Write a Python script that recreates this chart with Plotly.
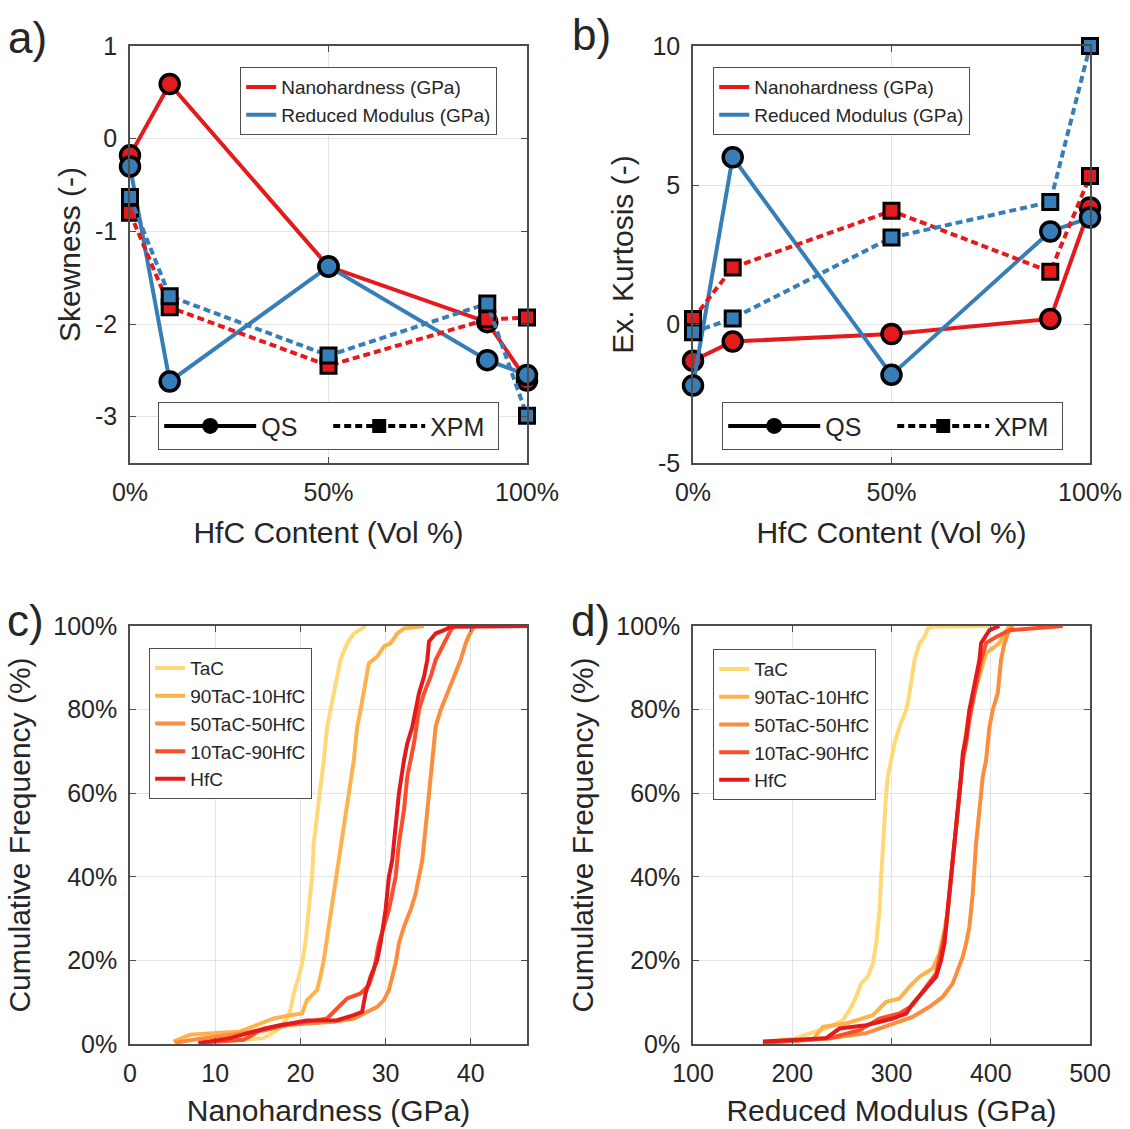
import plotly.graph_objects as go

# ---------------- data ----------------
hfc_content = [0, 10, 50, 90, 100]

skew_qs_hard = [-0.18, 0.59, -1.38, -1.98, -2.61]
skew_qs_mod = [-0.30, -2.62, -1.38, -2.39, -2.55]
skew_xpm_hard = [-0.80, -1.82, -2.45, -1.95, -1.93]
skew_xpm_mod = [-0.63, -1.70, -2.34, -1.78, -2.99]

kurt_qs_hard = [-1.32, -0.63, -0.36, 0.18, 4.19]
kurt_qs_mod = [-2.21, 6.00, -1.83, 3.33, 3.83]
kurt_xpm_hard = [0.18, 2.03, 4.07, 1.88, 5.32]
kurt_xpm_mod = [-0.30, 0.20, 3.11, 4.39, 10.0]

samples = ["TaC", "90TaC-10HfC", "50TaC-50HfC", "10TaC-90HfC", "HfC"]

# cumulative curves, nanohardness (GPa) vs cumulative frequency (%)
h_tac_x = [8.24, 11.76, 15.69, 17.25, 18.43, 18.82, 19.22, 19.80, 20.20, 20.59, 20.98, 21.37, 21.57, 21.96,
           22.27, 22.75, 23.14, 23.53, 24.12, 24.71, 25.49, 26.27, 27.06, 27.65]
h_tac_y = [0.3, 0.8, 1.4, 3.3, 6.1, 8.1, 12.1, 16.1, 19.3, 24.1, 32.1, 40.0, 48.0, 56.0,
           60.0, 67.9, 75.9, 79.9, 86.3, 91.9, 95.9, 98.2, 99.2, 100]
h_90_x = [5.10, 7.06, 12.94, 16.86, 18.82, 20.20, 20.78, 21.96, 22.35, 22.75, 23.33, 23.92, 24.31, 24.71,
          25.10, 25.69, 26.27, 26.67, 27.06, 27.45, 28.04, 29.02, 29.80, 30.59, 31.37, 32.16, 34.51]
h_90_y = [0.6, 2.2, 3.0, 6.1, 6.9, 7.3, 10.5, 12.9, 16.1, 20.1, 28.1, 36.0, 40.0, 46.4,
          52.0, 60.0, 67.9, 75.9, 79.9, 83.9, 91.1, 92.7, 95.1, 95.9, 98.2, 99.4, 100]
h_50_x = [5.29, 8.63, 15.69, 18.43, 20.78, 23.92, 26.27, 27.84, 29.02, 29.80, 30.39, 30.78, 31.18, 31.57,
          32.16, 32.94, 33.53, 33.92, 34.31, 34.71, 35.10, 35.49, 35.88, 36.47, 37.25, 38.04, 38.82, 39.41,
          39.80, 40.39]
h_50_y = [0.3, 1.4, 3.2, 4.5, 4.9, 5.3, 6.1, 7.7, 8.9, 10.5, 12.9, 16.1, 19.3, 24.1,
          28.1, 32.1, 36.0, 40.0, 44.0, 52.0, 60.0, 67.9, 75.9, 79.9, 83.9, 87.9, 91.9, 95.9,
          97.8, 100]
h_10_x = [8.04, 13.33, 15.69, 17.65, 20.78, 23.14, 24.31, 25.49, 27.06, 28.04, 28.63, 29.22, 29.80, 30.39,
          30.78, 31.18, 31.57, 32.16, 32.55, 32.94, 33.33, 33.92, 34.51, 35.29, 35.88, 36.47, 37.06, 37.65,
          38.04]
h_10_y = [0.3, 1.0, 3.7, 4.5, 5.3, 6.1, 8.5, 10.9, 12.1, 14.1, 17.7, 24.1, 28.1, 32.1,
          36.0, 40.0, 48.0, 56.0, 64.0, 67.9, 71.9, 79.9, 83.9, 87.9, 91.9, 94.3, 96.7, 99.0,
          100]
h_hfc_x = [8.04, 11.76, 14.51, 17.65, 20.78, 24.31, 26.27, 27.25, 27.65, 28.24, 29.02, 29.41, 30.00, 30.39,
           30.78, 31.18, 31.57, 32.16, 32.55, 33.14, 33.53, 33.92, 34.51, 34.90, 35.10, 35.88, 36.86, 37.65,
           46.6]
h_hfc_y = [0.2, 1.4, 3.0, 4.5, 5.6, 5.7, 6.9, 7.7, 12.1, 16.1, 20.1, 24.1, 32.1, 40.0,
           44.0, 52.0, 60.0, 67.9, 71.9, 75.9, 79.9, 83.9, 87.9, 91.9, 96.3, 98.2, 99.0, 99.8,
           100]

# cumulative curves, reduced modulus (GPa) vs cumulative frequency (%)
m_tac_x = [170.5, 204.0, 227.5, 237.6, 251.0, 257.7, 264.4, 269.5, 276.2, 281.2, 284.6, 287.9, 289.6, 291.3,
           293.0, 294.6, 296.3, 299.7, 303.0, 308.1, 314.8, 318.1, 323.2, 328.2, 333.2, 336.6, 341.6, 398.7]
m_tac_y = [0.3, 1.4, 3.3, 4.1, 5.7, 8.1, 11.3, 14.5, 16.1, 19.3, 24.1, 32.1, 40.0, 48.0,
           56.0, 60.0, 64.0, 67.9, 71.9, 75.9, 79.9, 83.9, 91.9, 95.9, 97.4, 99.4, 99.8, 100]
m_90_x = [170.5, 220.8, 230.9, 254.4, 281.2, 294.6, 308.1, 318.1, 328.2, 341.6, 348.3, 353.4, 356.7, 360.1,
          363.4, 366.8, 370.1, 373.5, 378.5, 383.6, 388.6, 395.3, 402.0, 408.7, 413.8, 418.8]
m_90_y = [0.3, 1.0, 4.1, 4.9, 6.9, 10.1, 10.9, 13.7, 16.1, 18.1, 21.7, 27.3, 32.1, 40.0,
          48.0, 56.0, 64.0, 71.9, 79.9, 83.9, 87.9, 93.5, 94.7, 95.9, 98.2, 100]
m_50_x = [170.5, 237.6, 274.5, 301.3, 321.5, 338.3, 351.7, 361.7, 366.8, 371.8, 375.2, 378.5, 381.9, 383.6,
          385.2, 386.9, 388.6, 390.3, 392.0, 395.3, 398.7, 402.0, 407.0, 410.4, 413.8, 417.1, 422.1]
m_50_y = [0.3, 1.4, 2.6, 4.9, 6.5, 8.9, 11.3, 14.5, 17.7, 20.9, 24.1, 28.1, 36.0, 44.0,
          48.0, 52.0, 56.0, 60.0, 64.0, 67.9, 75.9, 79.9, 83.9, 91.9, 95.9, 98.2, 100]
m_10_x = [170.5, 237.6, 267.8, 287.9, 308.1, 321.5, 334.9, 345.0, 351.7, 355.0, 358.4, 361.7, 365.1, 368.5,
          371.8, 375.2, 378.5, 383.6, 390.3, 395.3, 405.4, 418.8, 472.5]
m_10_y = [0.3, 1.4, 3.3, 6.1, 7.3, 9.3, 13.7, 16.9, 24.1, 28.1, 36.0, 44.0, 52.0, 60.0,
          67.9, 71.9, 77.5, 83.9, 91.9, 95.9, 97.4, 99.0, 100]
m_hfc_x = [170.5, 234.2, 247.7, 274.5, 301.3, 314.8, 321.5, 334.9, 345.0, 350.0, 353.4, 356.7, 360.1, 363.4,
           366.8, 370.1, 371.8, 375.2, 378.5, 381.9, 385.2, 388.6, 390.3, 395.3, 398.7, 408.7]
m_hfc_y = [0.6, 1.4, 3.7, 4.5, 6.1, 7.3, 9.7, 13.3, 16.1, 20.1, 24.1, 32.1, 40.0, 48.0,
           56.0, 64.0, 69.5, 73.5, 79.9, 83.9, 87.9, 91.9, 95.9, 97.8, 99.0, 100]

hard_x = [h_tac_x, h_90_x, h_50_x, h_10_x, h_hfc_x]
hard_y = [h_tac_y, h_90_y, h_50_y, h_10_y, h_hfc_y]
mod_x = [m_tac_x, m_90_x, m_50_x, m_10_x, m_hfc_x]
mod_y = [m_tac_y, m_90_y, m_50_y, m_10_y, m_hfc_y]

# tick values / labels
pct_ticks = [0, 50, 100]
pct_labels = ["0%", "50%", "100%"]
skew_ticks = [-3, -2, -1, 0, 1]
skew_labels = ["-3", "-2", "-1", "0", "1"]
kurt_ticks = [-5, 0, 5, 10]
kurt_labels = ["-5", "0", "5", "10"]
freq_ticks = [0, 20, 40, 60, 80, 100]
freq_labels = ["0%", "20%", "40%", "60%", "80%", "100%"]
hard_ticks = [0, 10, 20, 30, 40]
mod_ticks = [100, 200, 300, 400, 500]

# ---------------- styling ----------------
W, H = 1130, 1129
FONT = "Liberation Sans, Arial, sans-serif"
TXT = "#262626"
RED = "#E41A1C"
BLUE = "#377EB8"
CDF_COLORS = ["#FED976", "#FEB24C", "#FD8D3C", "#FC4E2A", "#E31A1C"]
AXC = "#4D4D4D"
GRID = "#E4E4E4"

fig = go.Figure()


def add_stat(xa, ya, vals_qs_h, vals_qs_m, vals_xpm_h, vals_xpm_m):
    for vals, col in ((vals_qs_h, RED), (vals_qs_m, BLUE)):
        fig.add_trace(go.Scatter(
            x=hfc_content, y=vals, xaxis=xa, yaxis=ya, mode="lines+markers",
            line=dict(color=col, width=4),
            marker=dict(symbol="circle", size=19, color=col, line=dict(color="black", width=3.5)),
            showlegend=False, cliponaxis=False, hoverinfo="skip"))
    for vals, col in ((vals_xpm_h, RED), (vals_xpm_m, BLUE)):
        fig.add_trace(go.Scatter(
            x=hfc_content, y=vals, xaxis=xa, yaxis=ya, mode="lines+markers",
            line=dict(color=col, width=4, dash="7px,4px"),
            marker=dict(symbol="square", size=15, color=col, line=dict(color="black", width=3)),
            showlegend=False, cliponaxis=False, hoverinfo="skip"))


add_stat("x", "y", skew_qs_hard, skew_qs_mod, skew_xpm_hard, skew_xpm_mod)
add_stat("x2", "y2", kurt_qs_hard, kurt_qs_mod, kurt_xpm_hard, kurt_xpm_mod)

# legend entries for the top panels
for xa, ya, lg_col, lg_sym in (("x", "y", "legend", "legend2"), ("x2", "y2", "legend3", "legend4")):
    for name, col in (("Nanohardness (GPa)", RED), ("Reduced Modulus (GPa)", BLUE)):
        fig.add_trace(go.Scatter(x=[None], y=[None], xaxis=xa, yaxis=ya, mode="lines",
                                 name=name, line=dict(color=col, width=4), legend=lg_col))
    fig.add_trace(go.Scatter(x=[None], y=[None], xaxis=xa, yaxis=ya, mode="lines+markers", name="QS",
                             line=dict(color="black", width=4),
                             marker=dict(symbol="circle", size=16, color="black"), legend=lg_sym))
    fig.add_trace(go.Scatter(x=[None], y=[None], xaxis=xa, yaxis=ya, mode="lines+markers", name="XPM",
                             line=dict(color="black", width=4, dash="7px,4px"),
                             marker=dict(symbol="square", size=14, color="black"), legend=lg_sym))

# cumulative panels
for xs, ys, xa, ya, lg in ((hard_x, hard_y, "x3", "y3", "legend5"), (mod_x, mod_y, "x4", "y4", "legend6")):
    for name, col, cx, cy in zip(samples, CDF_COLORS, xs, ys):
        fig.add_trace(go.Scatter(x=cx, y=cy, xaxis=xa, yaxis=ya, mode="lines", name=name,
                                 line=dict(color=col, width=4), legend=lg, hoverinfo="skip"))


def axis(domain, rng, tickvals, ticktext, anchor, title, standoff):
    return dict(domain=domain, range=rng, tickvals=tickvals, ticktext=ticktext, tickmode="array",
                anchor=anchor, automargin=False,
                showline=True, linecolor=AXC, linewidth=1.5, mirror="allticks",
                ticks="inside", ticklen=6, tickwidth=1.2, tickcolor=AXC,
                showgrid=True, gridcolor=GRID, gridwidth=1, zeroline=False,
                tickfont=dict(family=FONT, size=25, color=TXT),
                ticklabelstandoff=6,
                title=dict(text=title, font=dict(family=FONT, size=30, color=TXT), standoff=standoff))


xd_l = [130 / W, 527 / W]
xd_r = [693 / W, 1090 / W]
yd_t = [1 - 463 / H, 1 - 46 / H]
yd_b = [1 - 1044 / H, 1 - 626 / H]

legend_common = dict(font=dict(family=FONT, size=19, color=TXT), bgcolor="white",
                     bordercolor=AXC, borderwidth=1.2, xanchor="left", yanchor="top")
sym_common = dict(font=dict(family=FONT, size=25, color=TXT), bgcolor="white",
                  bordercolor=AXC, borderwidth=1.2, xanchor="left", yanchor="top",
                  orientation="h", itemwidth=92, entrywidth=62)

fig.update_layout(
    width=W, height=H, autosize=False,
    margin=dict(l=0, r=0, t=0, b=0, autoexpand=False),
    paper_bgcolor="white", plot_bgcolor="white",
    font=dict(family=FONT, color=TXT),
    xaxis=axis(xd_l, [0, 100], pct_ticks, pct_labels, "y", "HfC Content (Vol %)", 17),
    yaxis=axis(yd_t, [-3.5, 1], skew_ticks, skew_labels, "x", "Skewness (-)", 6),
    xaxis2=axis(xd_r, [0, 100], pct_ticks, pct_labels, "y2", "HfC Content (Vol %)", 17),
    yaxis2=axis(yd_t, [-5, 10], kurt_ticks, kurt_labels, "x2", "Ex. Kurtosis (-)", 10),
    xaxis3=axis(xd_l, [0, 46.6], hard_ticks, [str(v) for v in hard_ticks], "y3", "Nanohardness (GPa)", 14),
    yaxis3=axis(yd_b, [0, 100], freq_ticks, freq_labels, "x3", "Cumulative Frequency (%)", 14),
    xaxis4=axis(xd_r, [100, 500], mod_ticks, [str(v) for v in mod_ticks], "y4", "Reduced Modulus (GPa)", 14),
    yaxis4=axis(yd_b, [0, 100], freq_ticks, freq_labels, "x4", "Cumulative Frequency (%)", 14),
    legend=dict(x=240 / W, y=1 - 67 / H, **legend_common),
    legend2=dict(x=158 / W, y=1 - 402 / H, **sym_common),
    legend3=dict(x=713 / W, y=1 - 67 / H, **legend_common),
    legend4=dict(x=722 / W, y=1 - 402 / H, **sym_common),
    legend5=dict(x=149 / W, y=1 - 648 / H, **legend_common),
    legend6=dict(x=713 / W, y=1 - 649 / H, **legend_common),
)

for lbl, px, py in (("a)", 6, 38), ("b)", 570, 34), ("c)", 5, 620), ("d)", 569, 620)):
    fig.add_annotation(text=lbl, xref="paper", yref="paper", x=px / W, y=1 - py / H,
                       xanchor="left", yanchor="middle", showarrow=False,
                       font=dict(family=FONT, size=44, color=TXT))

fig.write_html("out.html")
